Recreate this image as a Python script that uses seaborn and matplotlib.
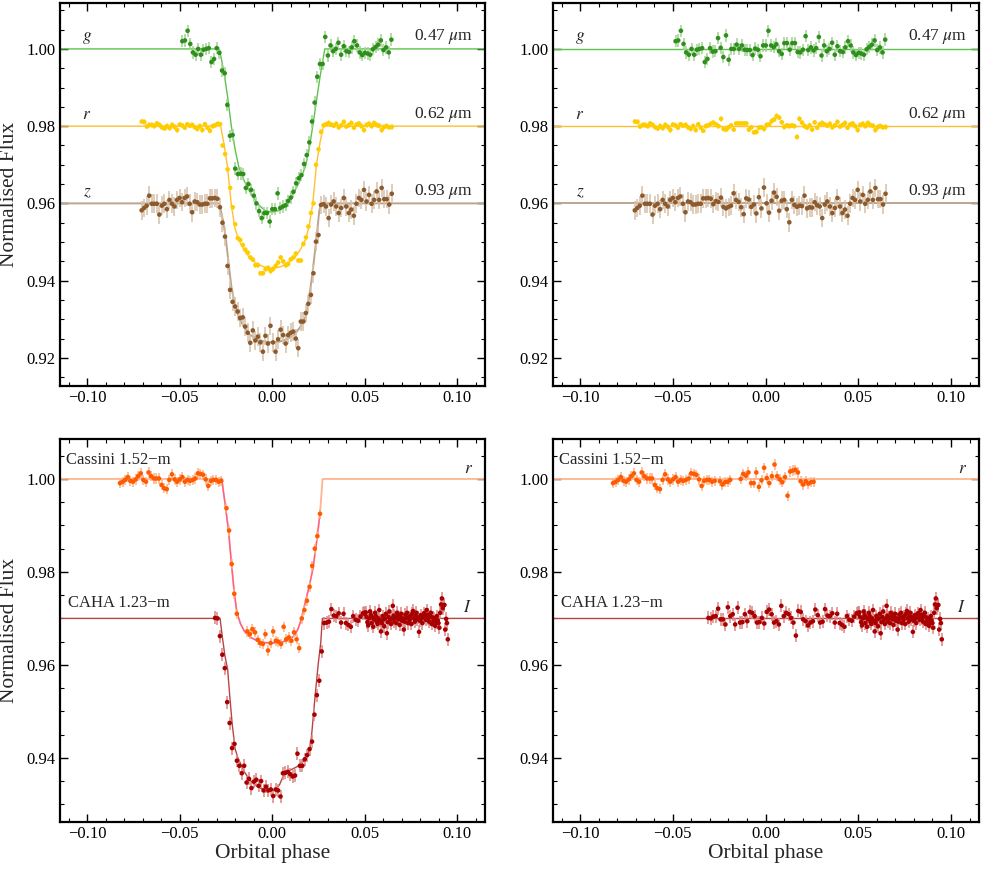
import numpy as np
import matplotlib
matplotlib.use("Agg")
import matplotlib.pyplot as plt
import seaborn as sns
from matplotlib.ticker import MultipleLocator, FuncFormatter

nan = np.nan

# ---------------- DATA ----------------
# g band (0.47 um)
g_range = (-0.0485, 0.0645)
g_pre = [1.0020, 1.0022, 1.0047, 1.0013, 0.9991, 0.9985, 1.0000, 0.9985, 0.9998, 1.0000,
         1.0002, 0.9966, 0.9974, 1.0002]
g_in_flux = [0.9990, 0.9944, 0.9937, 0.9855, 0.9775, 0.9777, 0.9690, 0.9676, 0.9677, 0.9676,
             0.9640, 0.9650, 0.9635, 0.9620, 0.9600, 0.9580, 0.9562, 0.9575, 0.9575, 0.9553,
             0.9585, 0.9585, 0.9626, 0.9588, 0.9592, 0.9595, 0.9606, 0.9615, 0.9630, 0.9652,
             0.9665, 0.9673, 0.9702, 0.9725, 0.9758, 0.9812, 0.9861, 0.9928, 0.9961, 0.9961]
g_in_resid = [0.9993, 0.9994, 1.0028, 1.0003, 0.9979, 1.0035, 0.9972, 1.0000, 1.0000, 1.0011,
              1.0000, 1.0009, 0.9998, 0.9997, 0.9997, 0.9984, 1.0001, 0.9998, 0.9981, 1.0009,
              1.0009, 1.0047, 1.0009, 1.0005, 1.0012, 0.9994, 0.9987, 1.0015, 1.0015, 0.9998,
              1.0015, 1.0015, 0.9992, 0.9991, 0.9998, 1.0033, 0.9997, 1.0004, 0.9996, 1.0002]
g_post = [1.0031, 0.9983, 1.0009, 0.9994, 1.0000, 1.0016, 0.9985, 1.0007, 0.9994, 0.9992,
          1.0004, 1.0020, 1.0009, 0.9991, 0.9984, 0.9990, 0.9988, 0.9985, 0.9999, 1.0005,
          1.0011, 1.0022, 0.9997, 1.0004, 0.9991, 1.0024]
g_err = 0.0016
g_model_x = [-0.115, -0.0285, -0.026, -0.024, -0.022, -0.020, -0.018, -0.015, -0.012, -0.008,
             -0.004, 0.0, 0.004, 0.008, 0.012, 0.015, 0.018, 0.020, 0.022, 0.024, 0.026, 0.0285, 0.115]
g_model_y = [1.0, 1.0, 0.9940, 0.9875, 0.9800, 0.9740, 0.9695, 0.9658, 0.9630, 0.9600,
             0.9582, 0.9577, 0.9582, 0.9600, 0.9630, 0.9658, 0.9695, 0.9740, 0.9800, 0.9865,
             0.9930, 1.0, 1.0]

# r band (0.62 um)
r_range = (-0.0704, 0.0647)
r_pre = [0.9812, 0.9811, 0.9799, 0.9803, 0.9803, 0.9800, 0.9807, 0.9803, 0.9797, 0.9794,
         0.9800, 0.9795, 0.9803, 0.9798, 0.9790, 0.9804, 0.9802, 0.9796, 0.9805, 0.9801,
         0.9803, 0.9797, 0.9793, 0.9800, 0.9790, 0.9805, 0.9796, 0.9788, 0.9800, 0.9802, 0.9806]
r_in_flux = [0.9805, 0.9750, 0.9728, 0.9688, 0.9640, 0.9590, 0.9546, 0.9510, 0.9505, 0.9492,
             0.9480, 0.9472, 0.9460, 0.9454, 0.9440, 0.9440, 0.9419, 0.9419, 0.9430, 0.9433,
             0.9425, 0.9430, 0.9438, 0.9447, 0.9460, 0.9450, 0.9440, 0.9443, 0.9455, 0.9460,
             0.9470, 0.9452, 0.9452, 0.9495, 0.9512, 0.9540, 0.9575, 0.9600, 0.9700, 0.9740,
             0.9785, 0.9802]
r_in_resid = [0.9809, 0.9804, 0.9800, 0.9819, 0.9793, 0.9791, 0.9797, 0.9802, 0.9791, 0.9807,
              0.9807, 0.9807, 0.9807, 0.9807, 0.9791, 0.9797, 0.9784, 0.9785, 0.9796, 0.9797,
              0.9793, 0.9803, 0.9804, 0.9813, 0.9817, 0.9826, 0.9822, 0.9810, 0.9798, 0.9802,
              0.9800, 0.9802, 0.9800, 0.9772, 0.9819, 0.9809, 0.9800, 0.9796, 0.9802, 0.9791,
              0.9810, 0.9796]
r_post = [0.9805, 0.9808, 0.9804, 0.9801, 0.9806, 0.9797, 0.9802, 0.9811, 0.9799, 0.9803,
          0.9808, 0.9796, 0.9804, 0.9807, 0.9800, 0.9790, 0.9803, 0.9806, 0.9800, 0.9808,
          0.9803, 0.9801, 0.9790, 0.9798, 0.9800, 0.9797, 0.9798]
r_err = 0.0007
r_model_x = [-0.115, -0.0278, -0.026, -0.024, -0.022, -0.020, -0.018, -0.015, -0.012, -0.008,
             -0.004, 0.0, 0.004, 0.008, 0.012, 0.015, 0.018, 0.020, 0.022, 0.024, 0.026, 0.0278, 0.115]
r_model_y = [0.98, 0.98, 0.9755, 0.9690, 0.9595, 0.9535, 0.9505, 0.9478, 0.9458, 0.9443,
             0.9435, 0.9432, 0.9435, 0.9443, 0.9458, 0.9478, 0.9505, 0.9540, 0.9600, 0.9700,
             0.9760, 0.98, 0.98]

# z band (0.93 um)
z_range = (-0.0705, 0.0647)
z_pre = [0.9582, 0.9588, 0.9594, 0.9620, 0.9599, 0.9599, 0.9599, 0.9571, 0.9594, 0.9599,
         0.9585, 0.9609, 0.9599, 0.9592, 0.9609, 0.9614, 0.9603, 0.9614, 0.9618, 0.9599,
         0.9577, 0.9605, 0.9603, 0.9597, 0.9597, 0.9599, 0.9599, 0.9613, 0.9613, 0.9614, 0.9612]
z_in_flux = [0.9590, 0.9550, 0.9514, 0.9438, 0.9376, 0.9345, 0.9333, 0.9320, 0.9303, 0.9305,
             0.9281, 0.9265, 0.9239, 0.9271, 0.9245, 0.9255, 0.9240, 0.9216, 0.9257, 0.9237,
             0.9283, 0.9240, 0.9216, 0.9248, 0.9273, 0.9259, 0.9237, 0.9259, 0.9265, 0.9268,
             0.9250, 0.9225, 0.9294, 0.9294, 0.9316, 0.9340, 0.9363, 0.9419, 0.9501, 0.9518,
             0.9596, 0.9598]
z_in_resid = [0.9598, 0.9606, 0.9604, 0.9615, 0.9591, 0.9587, 0.9591, 0.9594, 0.9626, 0.9609,
              0.9604, 0.9590, 0.9572, 0.9613, 0.9610, 0.9591, 0.9597, 0.9574, 0.9616, 0.9587,
              0.9641, 0.9600, 0.9576, 0.9607, 0.9628, 0.9617, 0.9581, 0.9607, 0.9609, 0.9585,
              0.9551, 0.9609, 0.9596, 0.9591, 0.9594, 0.9593, 0.9620, 0.9587, 0.9590, 0.9589,
              0.9603, 0.9595]
z_post = [0.9592, 0.9562, 0.9597, 0.9605, 0.9592, 0.9575, 0.9588, 0.9614, 0.9592, 0.9575,
          0.9584, 0.9568, 0.9599, 0.9614, 0.9609, 0.9635, 0.9605, 0.9622, 0.9599, 0.9609,
          0.9631, 0.9609, 0.9640, 0.9611, 0.9611, 0.9597, 0.9625]
z_err = 0.0024
z_model_x = [-0.115, -0.0285, -0.0265, -0.025, -0.0235, -0.022, -0.020, -0.018, -0.015, -0.012,
             -0.008, -0.004, 0.0, 0.004, 0.008, 0.012, 0.015, 0.018, 0.020, 0.022, 0.024,
             0.0255, 0.0265, 0.115]
z_model_y = [0.96, 0.96, 0.9555, 0.9510, 0.9445, 0.9385, 0.9335, 0.9305, 0.9278, 0.9260,
             0.9248, 0.9242, 0.9240, 0.9242, 0.9248, 0.9260, 0.9278, 0.9305, 0.9355, 0.9425,
             0.9510, 0.9580, 0.96, 0.96]

# Cassini 1.52-m, r band
cas_range = (-0.0822, 0.0259)
cas_pre = [0.9991, 0.9994, 0.9998, 1.0004, 0.9996, 0.9994, 0.9999, 1.0006, 1.0012, 0.9998,
           0.9994, 1.0014, 1.0006, 1.0001, 1.0001, 1.0001, 0.9987, 0.9980, 0.9978, 0.9998,
           1.0010, 0.9999, 0.9994, 0.9999, 1.0004, 0.9994, 0.9998, 0.9996, 0.9998, 1.0001,
           1.0012, 1.0011, 1.0009, 0.9999, 0.9985, 0.9996, 0.9998, 0.9998, 0.9994, 0.9996]
cas_in_flux = [nan, 0.9937, 0.9889, 0.9817, 0.9753, 0.9710, nan, nan, nan, 0.9672,
               0.9666, 0.9677, 0.9670, 0.9654, 0.9647, 0.9645, 0.9666, 0.9631, 0.9647, 0.9672,
               0.9652, 0.9650, 0.9645, 0.9682, 0.9655, 0.9659, 0.9652, 0.9670, 0.9655, 0.9636,
               0.9700, 0.9718, 0.9738, 0.9768, 0.9813, 0.9850, 0.9877, 0.9925]
cas_in_resid = [nan, 0.9995, 0.9988, 0.9993, 0.9994, 0.9998, nan, nan, nan, 1.0000,
                1.0011, 1.0007, 1.0014, 0.9991, 0.9991, 1.0014, 0.9983, 0.9997, 1.0024, 1.0002,
                0.9991, 1.0006, 1.0031, 1.0006, 0.9999, 0.9993, 1.0004, 0.9964, 1.0016, 1.0018,
                1.0020, 1.0014, 0.9995, 0.9988, 0.9995, 0.9990, 0.9993, 0.9994]
cas_err = 0.0011
cas_model_x = [-0.115, -0.0272, -0.0262, -0.0250, -0.0235, -0.0220, -0.0205, -0.0190, -0.0170,
               -0.0150, -0.012, -0.008, -0.004, 0.0, 0.004, 0.008, 0.012, 0.014, 0.016, 0.018,
               0.020, 0.022, 0.024, 0.0259, 0.0273, 0.115]
cas_model_y = [1.0, 1.0, 0.9970, 0.9935, 0.9888, 0.9820, 0.9758, 0.9712, 0.9688, 0.9673,
               0.9660, 0.9652, 0.9648, 0.9647, 0.9648, 0.9652, 0.9662, 0.9677, 0.9700, 0.9735,
               0.9768, 0.9805, 0.9862, 0.9925, 1.0, 1.0]

# CAHA 1.23-m, I band
caha_rangeA = (-0.0308, 0.0491)
caha_rangeB = (0.0497, 0.0950)
caha_pre = [0.9701, 0.9700]
caha_in_flux = [0.9662, 0.9622, 0.9593, 0.9520, 0.9475, 0.9421, 0.9430, 0.9394, 0.9383, 0.9367,
                0.9383, 0.9347, 0.9355, 0.9335, 0.9349, 0.9353, 0.9340, 0.9350, 0.9330, 0.9338,
                0.9330, 0.9332, 0.9318, 0.9332, 0.9330, 0.9317, 0.9367, 0.9368, 0.9370, 0.9365,
                0.9360, 0.9362, 0.9409, 0.9383, 0.9383, 0.9397, 0.9406, 0.9419, 0.9435, 0.9493,
                0.9535, 0.9566, 0.9629, 0.9690]
caha_in_resid = [0.9704, 0.9705, 0.9721, 0.9698, 0.9698, 0.9687, 0.9724, 0.9705, 0.9709, 0.9687,
                 0.9723, 0.9691, 0.9692, 0.9709, 0.9694, 0.9714, 0.9712, 0.9705, 0.9691, 0.9692,
                 0.9701, 0.9689, 0.9714, 0.9719, 0.9709, 0.9691, 0.9694, 0.9687, 0.9727, 0.9705,
                 0.9712, 0.9709, 0.9701, 0.9691, 0.9663, 0.9716, 0.9714, 0.9698, 0.9694, 0.9685,
                 0.9691, 0.9694, 0.9719, 0.9707]
caha_postA = [0.9691, 0.9693, 0.9720, 0.9706, 0.9705, 0.9711, 0.9691, 0.9710, 0.9690, 0.9686,
              0.9682, 0.9705, 0.9697, 0.9695, 0.9704, 0.9711]
caha_postB = [0.9712, 0.9710, 0.9713, 0.9703, 0.9692, 0.9685, 0.9700, 0.9715, 0.9707, 0.9690,
              0.9702, 0.9682, 0.9698, 0.9712, 0.9705, 0.9693, 0.9688, 0.9700, 0.9718, 0.9695,
              0.9672, 0.9690, 0.9705, 0.9698, 0.9683, 0.9700, 0.9710, 0.9668, 0.9692, 0.9703,
              0.9715, 0.9697, 0.9688, 0.9700, 0.9727, 0.9706, 0.9693, 0.9701, 0.9690, 0.9712,
              0.9705, 0.9698, 0.9686, 0.9702, 0.9710, 0.9695, 0.9700, 0.9676, 0.9693, 0.9708,
              0.9700, 0.9712, 0.9690, 0.9703, 0.9697, 0.9705, 0.9688, 0.9710, 0.9716, 0.9700,
              0.9693, 0.9705, 0.9712, 0.9698, 0.9702, 0.9671, 0.9695, 0.9707, 0.9700, 0.9690,
              0.9703, 0.9711, 0.9704, 0.9697, 0.9718, 0.9708, 0.9700, 0.9693, 0.9705, 0.9712,
              0.9688, 0.9702, 0.9695, 0.9700, 0.9684, 0.9692, 0.9705, 0.9696, 0.9690, 0.9680,
              0.9712, 0.9730, 0.9743, 0.9722, 0.9728, 0.9729, 0.9676, 0.9699, 0.9690, 0.9655]
caha_err = 0.0014
caha_model_x = [-0.115, -0.0281, -0.0269, -0.0255, -0.0240, -0.0228, -0.0216, -0.0200, -0.0185,
                -0.0173, -0.015, -0.012, -0.008, -0.004, 0.0, 0.002, 0.004, 0.006, 0.010, 0.015,
                0.018, 0.0205, 0.0214, 0.0232, 0.0250, 0.0263, 0.0272, 0.115]
caha_model_y = [0.970, 0.970, 0.9661, 0.9620, 0.9590, 0.9530, 0.9475, 0.9420, 0.9400, 0.9390,
                0.9370, 0.9352, 0.9338, 0.9331, 0.9330, 0.9332, 0.9342, 0.9360, 0.9374, 0.9384,
                0.9398, 0.9420, 0.9450, 0.9530, 0.9604, 0.9647, 0.9700, 0.970]

top_baselines = [1.00, 0.98, 0.96]
bottom_baselines = [1.00, 0.97]
band_letters = ["g", "r", "z"]
band_waves = ["0.47", "0.62", "0.93"]

# ---------------- STYLE ----------------
sns.set_theme(style="ticks")
plt.rcParams["font.family"] = ["Liberation Serif", "DejaVu Serif"]
plt.rcParams["mathtext.fontset"] = "stix"
plt.rcParams["axes.unicode_minus"] = True

G_PT, G_ER, G_LN = "#2f8f1c", "#9ed38e", "#5fc24e"
R_PT, R_ER, R_LN = "#ffcc00", "#ffe680", "#ffbf33"
Z_PT, Z_ER, Z_LN = "#8c5a2c", "#d6c0a8", "#bba58e"
C_PT, C_ER, C_LN, C_BL = "#ff5a00", "#ffb084", "#ff5c8c", "#ffb38f"
H_PT, H_ER, H_LN = "#a80000", "#dd8585", "#b84444"

XLIM = (-0.1146, 0.1151)
YLIM_TOP = (0.9127, 1.0119)
YLIM_BOT = (0.9262, 1.0086)


def fmt(v, pos):
    if abs(v) < 1e-9:
        v = 0.0
    return f"{v:.2f}".replace("-", "\u2212")


def style(ax, ylim):
    ax.set_xlim(*XLIM)
    ax.set_ylim(*ylim)
    ax.xaxis.set_major_locator(MultipleLocator(0.05))
    ax.xaxis.set_minor_locator(MultipleLocator(0.01))
    ax.yaxis.set_major_locator(MultipleLocator(0.02))
    ax.yaxis.set_minor_locator(MultipleLocator(0.005))
    ax.xaxis.set_major_formatter(FuncFormatter(fmt))
    ax.yaxis.set_major_formatter(FuncFormatter(fmt))
    ax.tick_params(which="both", direction="in", top=True, right=True,
                   colors="black", labelsize=12)
    ax.tick_params(which="major", length=5.5, width=1.0, pad=3)
    ax.tick_params(which="minor", length=2.8, width=0.8)
    for s in ax.spines.values():
        s.set_linewidth(1.6)
        s.set_color("black")
    ax.set_xlabel("")
    ax.set_ylabel("")


def points(ax, x, y, err, pc, ec):
    x = np.asarray(x, float)
    y = np.asarray(y, float)
    ok = ~np.isnan(y)
    ax.errorbar(x[ok], y[ok], yerr=err, fmt="none", ecolor=ec, elinewidth=1.1,
                capsize=0, zorder=2)
    sns.scatterplot(x=x[ok], y=y[ok], ax=ax, color=pc, s=11, linewidth=0,
                    edgecolor="none", legend=False, zorder=3)


def model(ax, mx, my, color, lw=1.0):
    sns.lineplot(x=mx, y=my, ax=ax, color=color, linewidth=lw, sort=False,
                 estimator=None, zorder=1.5)


def grid(rng, n):
    return np.linspace(rng[0], rng[1], n)


fig = plt.figure(figsize=(9.81, 8.72), dpi=100)
ax_tl = fig.add_axes([0.0612, 0.5573, 0.4332, 0.4393])
ax_tr = fig.add_axes([0.5637, 0.5573, 0.4343, 0.4393])
ax_bl = fig.add_axes([0.0612, 0.0573, 0.4332, 0.4393])
ax_br = fig.add_axes([0.5637, 0.0573, 0.4343, 0.4393])

# ---- top panels ----
bands = [
    (g_range, g_pre, g_in_flux, g_in_resid, g_post, g_err, g_model_x, g_model_y, G_PT, G_ER, G_LN, 1.0),
    (r_range, r_pre, r_in_flux, r_in_resid, r_post, r_err, r_model_x, r_model_y, R_PT, R_ER, R_LN, 1.0),
    (z_range, z_pre, z_in_flux, z_in_resid, z_post, z_err, z_model_x, z_model_y, Z_PT, Z_ER, Z_LN, 1.4),
]
for (rng, pre, inf, inr, post, err, mx, my, pc, ec, lc, lw), base in zip(bands, top_baselines):
    flux = pre + inf + post
    resid = pre + inr + post
    model(ax_tl, mx, my, lc, lw)
    points(ax_tl, grid(rng, len(flux)), flux, err, pc, ec)
    ax_tr.axhline(base, color=lc, linewidth=lw, zorder=1.5)
    points(ax_tr, grid(rng, len(resid)), resid, err, pc, ec)

for ax in (ax_tl, ax_tr):
    for letter, wave, base in zip(band_letters, band_waves, top_baselines):
        ax.text(-0.100, base + 0.0028, f"${letter}$", ha="center", va="center", fontsize=12.5)
        ax.text(0.1087, base + 0.0031, wave + r" $\mu$m", ha="right", va="center", fontsize=12.5)

# ---- bottom panels ----
cas_flux = cas_pre + cas_in_flux
cas_resid = cas_pre + cas_in_resid
mxa = np.asarray(cas_model_x)
mya = np.asarray(cas_model_y)
model(ax_bl, mxa, mya, C_BL, 1.3)
inside = (mxa >= -0.0272) & (mxa <= 0.0259)
model(ax_bl, mxa[inside], mya[inside], C_LN, 1.0)
points(ax_bl, grid(cas_range, len(cas_flux)), cas_flux, cas_err, C_PT, C_ER)
ax_br.axhline(bottom_baselines[0], color=C_BL, linewidth=1.3, zorder=1.5)
points(ax_br, grid(cas_range, len(cas_resid)), cas_resid, cas_err, C_PT, C_ER)

caha_fluxA = caha_pre + caha_in_flux + caha_postA
caha_residA = caha_pre + caha_in_resid + caha_postA
model(ax_bl, caha_model_x, caha_model_y, H_LN, 1.0)
points(ax_bl, grid(caha_rangeA, len(caha_fluxA)), caha_fluxA, caha_err, H_PT, H_ER)
points(ax_bl, grid(caha_rangeB, len(caha_postB)), caha_postB, caha_err, H_PT, H_ER)
ax_br.axhline(bottom_baselines[1], color=H_LN, linewidth=1.0, zorder=1.5)
points(ax_br, grid(caha_rangeA, len(caha_residA)), caha_residA, caha_err, H_PT, H_ER)
points(ax_br, grid(caha_rangeB, len(caha_postB)), caha_postB, caha_err, H_PT, H_ER)

for ax in (ax_bl, ax_br):
    ax.text(-0.1113, 1.0041, "Cassini 1.52\u2212m", ha="left", va="center", fontsize=12)
    ax.text(0.1060, 1.0021, "$r$", ha="center", va="center", fontsize=12.5)
    ax.text(-0.1105, 0.9733, "CAHA 1.23\u2212m", ha="left", va="center", fontsize=12)
    ax.text(0.1058, 0.9723, "$I$", ha="center", va="center", fontsize=12.5)

style(ax_tl, YLIM_TOP)
style(ax_tr, YLIM_TOP)
style(ax_bl, YLIM_BOT)
style(ax_br, YLIM_BOT)

for ax in (ax_tl, ax_bl):
    ax.set_ylabel("Normalised Flux", fontsize=15.5)
    ax.yaxis.set_label_coords(-0.097, 0.5)
for ax in (ax_bl, ax_br):
    ax.set_xlabel("Orbital phase", fontsize=15.5)
    ax.xaxis.set_label_coords(0.5, -0.058)

fig.savefig("out.png", dpi=100, facecolor="white")
